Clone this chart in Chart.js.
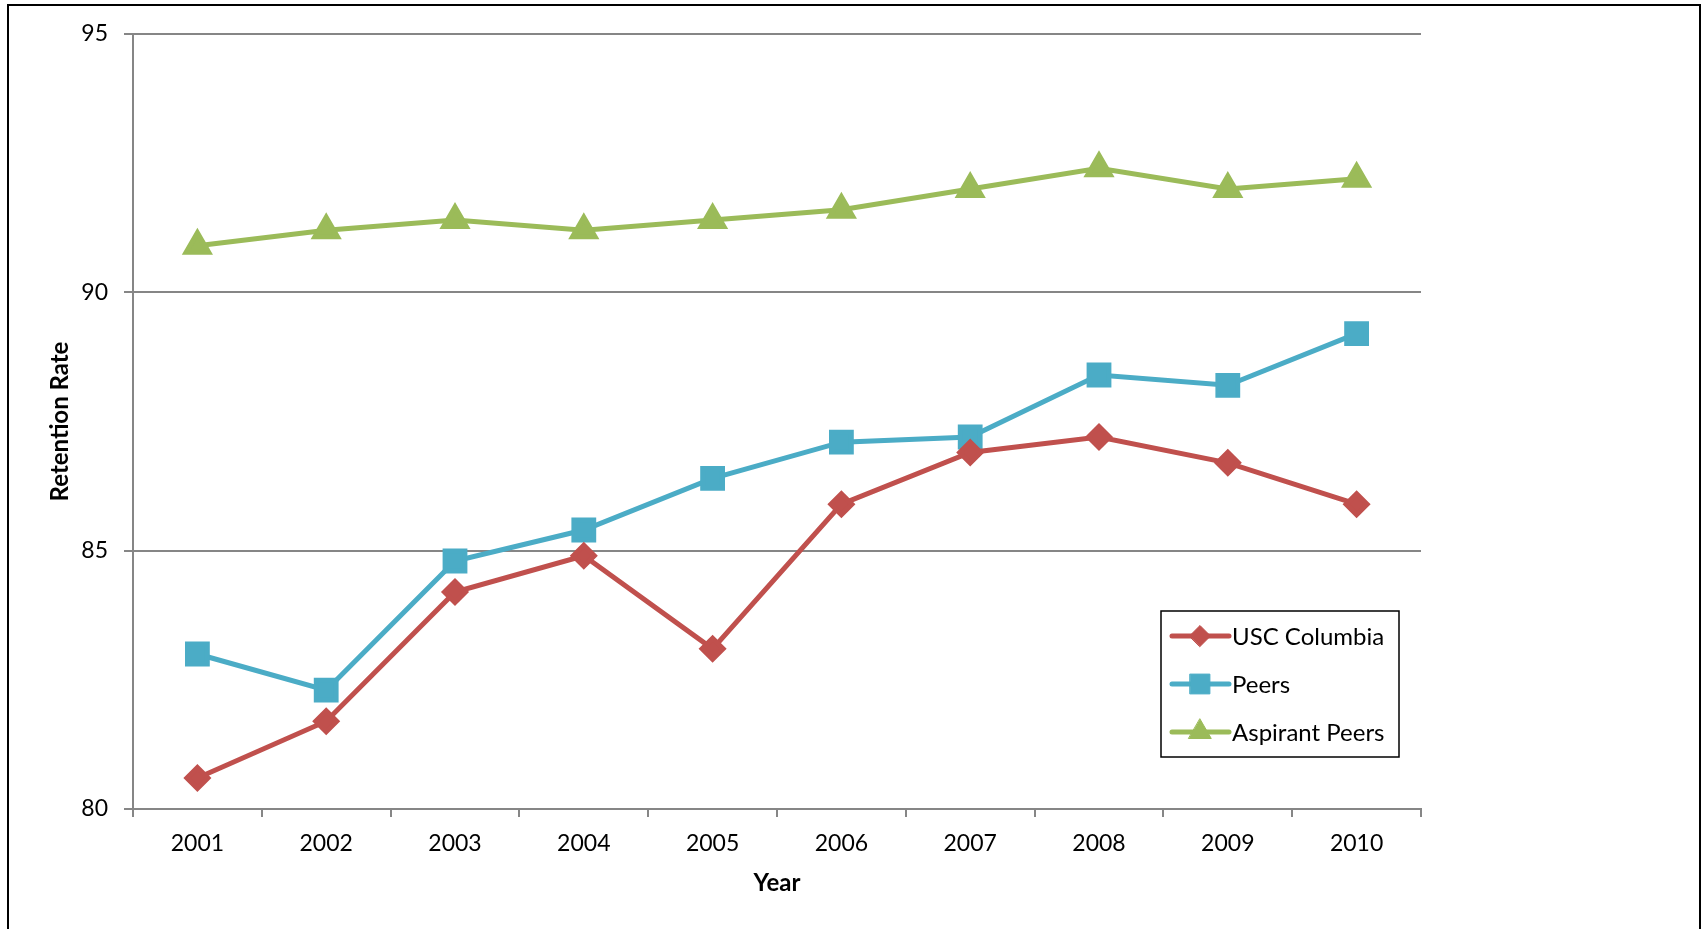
<!DOCTYPE html>
<html>
<head>
<meta charset="utf-8">
<script src="https://cdn.jsdelivr.net/npm/chart.js@4.4.0/dist/chart.umd.min.js"></script>
<style>
    html, body { margin: 0; padding: 0; background: #fff; overflow: hidden; }
    #wrap { position: relative; width: 1705px; height: 929px; }
    #frame { position: absolute; left: 7px; top: 4px; width: 1694px; height: 1000px; border: 2px solid #000; box-sizing: border-box; pointer-events: none; }
</style>
</head>
<body>
<div id="wrap">
    <canvas id="grafico" width="1705" height="929"></canvas>
    <div id="frame"></div>
</div>
<script>
const anos = ['2001', '2002', '2003', '2004', '2005', '2006', '2007', '2008', '2009', '2010'];
const uscColumbia = [80.6, 81.7, 84.2, 84.9, 83.1, 85.9, 86.9, 87.2, 86.7, 85.9];
const peers = [83.0, 82.3, 84.8, 85.4, 86.4, 87.1, 87.2, 88.4, 88.2, 89.2];
const aspirantPeers = [90.9, 91.2, 91.4, 91.2, 91.4, 91.6, 92.0, 92.4, 92.0, 92.2];
const yTicks = [80, 85, 90, 95];

const fonte = 'Lato, "Open Sans", sans-serif';

// legenda desenhada dentro da area do grafico, como no original
const legendaBox = {
    id: 'legendaBox',
    afterDraw(chart) {
        const ctx = chart.ctx;
        const x = 1161, y = 611, w = 238, h = 146;
        ctx.save();
        ctx.fillStyle = '#fff';
        ctx.fillRect(x, y, w, h);
        ctx.strokeStyle = '#000';
        ctx.lineWidth = 1.5;
        ctx.strokeRect(x, y, w, h);
        chart.data.datasets.forEach(function(ds, i) {
            const cy = y + 25 + i * 48;
            ctx.strokeStyle = ds.borderColor;
            ctx.lineWidth = ds.borderWidth;
            ctx.lineCap = 'round';
            ctx.beginPath();
            ctx.moveTo(x + 11, cy);
            ctx.lineTo(x + 68, cy);
            ctx.stroke();
            ctx.fillStyle = ds.pointBackgroundColor;
            ctx.strokeStyle = ds.pointBackgroundColor;
            ctx.lineWidth = 1;
            Chart.helpers.drawPoint(ctx, { pointStyle: ds.pointStyle, radius: ds.pointRadius, borderWidth: 1, rotation: 0 }, x + 39, cy);
            ctx.fillStyle = '#000';
            ctx.font = '24px ' + fonte;
            ctx.textBaseline = 'middle';
            ctx.textAlign = 'left';
            ctx.fillText(ds.label, x + 71, cy + 1);
        });
        ctx.restore();
    }
};

new Chart(document.getElementById('grafico'), {
    type: 'line',
    data: {
        labels: anos,
        datasets: [
            {
                label: 'USC Columbia',
                data: uscColumbia,
                borderColor: '#C0504D',
                pointBackgroundColor: '#C0504D',
                pointBorderColor: '#C0504D',
                borderWidth: 5,
                pointStyle: 'rectRot',
                pointRadius: 10.5,
                tension: 0
            },
            {
                label: 'Peers',
                data: peers,
                borderColor: '#4BACC6',
                pointBackgroundColor: '#4BACC6',
                pointBorderColor: '#4BACC6',
                borderWidth: 5,
                pointStyle: 'rect',
                pointRadius: 14,
                tension: 0
            },
            {
                label: 'Aspirant Peers',
                data: aspirantPeers,
                borderColor: '#9BBB59',
                pointBackgroundColor: '#9BBB59',
                pointBorderColor: '#9BBB59',
                borderWidth: 5,
                pointStyle: 'triangle',
                pointRadius: 13,
                tension: 0
            }
        ]
    },
    options: {
        responsive: false,
        animation: false,
        layout: {
            padding: { left: 0, right: 284, top: 34, bottom: 0 }
        },
        plugins: {
            legend: { display: false },
            tooltip: { enabled: false }
        },
        scales: {
            x: {
                offset: true,
                afterFit: function(scale) { scale.height = 120; },
                grid: {
                    offset: true,
                    drawOnChartArea: false,
                    drawTicks: true,
                    tickLength: 8,
                    color: '#868686',
                    lineWidth: 2
                },
                border: { display: true, color: '#868686', width: 2 },
                ticks: {
                    color: '#000',
                    padding: 13,
                    font: { family: fonte, size: 23 }
                },
                title: {
                    display: true,
                    text: 'Year',
                    color: '#000',
                    padding: { top: 6, bottom: 31 },
                    font: { family: fonte, size: 24, weight: 'bold' }
                }
            },
            y: {
                min: 80,
                max: 95,
                afterFit: function(scale) { scale.width = 133; },
                afterBuildTicks: function(scale) {
                    scale.ticks = yTicks.map(function(v) { return { value: v }; });
                },
                grid: {
                    color: '#868686',
                    lineWidth: 2,
                    drawTicks: true,
                    tickLength: 9
                },
                border: { display: true, color: '#868686', width: 2 },
                ticks: {
                    color: '#000',
                    padding: 16,
                    font: { family: fonte, size: 23 }
                },
                title: {
                    display: true,
                    text: 'Retention Rate',
                    color: '#000',
                    padding: { top: 46, bottom: 0 },
                    font: { family: fonte, size: 24, weight: 'bold' }
                }
            }
        }
    },
    plugins: [legendaBox]
});
</script>
</body>
</html>
